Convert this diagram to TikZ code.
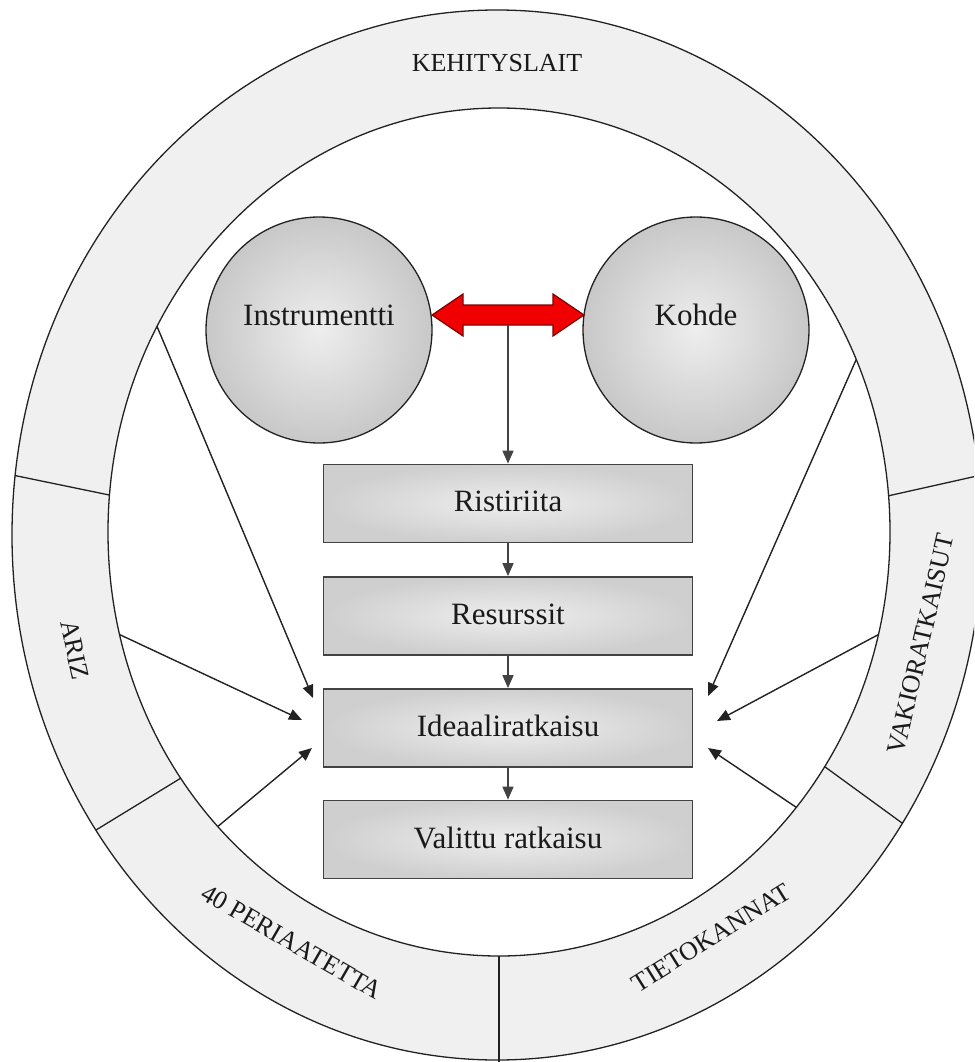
\documentclass[tikz,border=0pt]{standalone}
\usepackage{fontspec}
\setmainfont{Liberation Serif}
\usetikzlibrary{arrows.meta,calc}
\definecolor{ringfill}{HTML}{F0F0F0}
\definecolor{boxin}{HTML}{EEEEEE}
\definecolor{boxout}{HTML}{CFCFCF}
\definecolor{ballin}{HTML}{EEEEEE}
\definecolor{ballout}{HTML}{C8C8C8}
\definecolor{linecol}{HTML}{222222}
\definecolor{arrred}{HTML}{F00000}
\definecolor{arrdark}{HTML}{800000}
\definecolor{txt}{HTML}{1A1A1A}
\begin{document}
\begin{tikzpicture}[x=1pt,y=-1pt,
  ringline/.style={draw=linecol, line width=1.3pt},
  flowbox/.style={rectangle, draw=linecol!85, line width=1.8pt, minimum width=369pt, minimum height=78pt, inner sep=0pt, shading=radial, inner color=boxin, outer color=boxout, font=\fontsize{31}{36}\selectfont, text=txt},
  ball/.style={circle, draw=linecol, line width=1.3pt, minimum size=226pt, inner sep=0pt, shading=radial, inner color=ballin, outer color=ballout},
  balltext/.style={font=\fontsize{31}{36}\selectfont, text=txt},
  flow/.style={draw=linecol!85, line width=1.4pt, -{Triangle[length=13pt,width=11pt]}},
  feed/.style={draw=linecol, line width=1.4pt, -{Triangle[length=13pt,width=11pt]}},
  ringlabel/.style={font=\fontsize{26}{30}\selectfont, text=txt}
]
\useasboundingbox (0,0) rectangle (974,1062);
\clip (0,0) rectangle (974,1062);

% ring
\fill[ringfill] (497,535) ellipse [x radius=485, y radius=525];
\fill[white] (499,532) ellipse [x radius=391, y radius=424];
\draw[ringline] (497,535) ellipse [x radius=485, y radius=525];
\draw[ringline] (499,532) ellipse [x radius=391, y radius=424];

% ring dividers
\draw[ringline] ({499+391*cos(175)},{532-424*sin(175)}) -- ({497+485*cos(173.5)},{535-525*sin(173.5)});
\draw[ringline] ({499+391*cos(215.5)},{532-424*sin(215.5)}) -- ({497+485*cos(214.2)},{535-525*sin(214.2)});
\draw[ringline] (499,956) -- (499,1064);
\draw[ringline] ({499+391*cos(-33.6)},{532-424*sin(-33.6)}) -- ({497+485*cos(-33.3)},{535-525*sin(-33.3)});
\draw[ringline] ({499+391*cos(4.9)},{532-424*sin(4.9)}) -- ({497+485*cos(6.5)},{535-525*sin(6.5)});

% ring labels
\node[ringlabel] (kehit) at (497,63) {KEHITYSLAIT};
\node[ringlabel, rotate=-78] (ariz) at (75,650) {ARIZ};
\node[ringlabel, rotate=-30] (periaat) at (292,942) {40 PERIAATETTA};
\node[ringlabel, rotate=32] (tieto) at (711,938) {TIETOKANNAT};
\node[ringlabel, rotate=77] (vakio) at (921,644) {VAKIORATKAISUT};

% circles
\node[ball, label={[balltext, yshift=15pt]center:Instrumentti}] (instr) at (319,330) {};
\node[ball, label={[balltext, yshift=15pt]center:Kohde}] (kohde) at (696,330) {};

% red double arrow
\filldraw[fill=arrred, draw=arrdark, line width=1.2pt, line join=miter]
  (432,315) -- (463,294) -- (463,305) -- (553,305) -- (553,294) -- (584,315)
  -- (553,336) -- (553,325) -- (463,325) -- (463,336) -- cycle;
\coordinate (linkbot) at (508,325);

% flow boxes
\node[flowbox] (ristir) at (508,503.5) {\raisebox{4pt}{Ristiriita}};
\node[flowbox] (resurs) at (508,616) {\raisebox{4pt}{Resurssit}};
\node[flowbox] (ideaal) at (508,728) {\raisebox{4pt}{Ideaaliratkaisu}};
\node[flowbox] (valit) at (508,839.5) {\raisebox{4pt}{Valittu ratkaisu}};

\draw[flow] (linkbot) -- (ristir.north);
\draw[flow] (ristir) -- (resurs);
\draw[flow] (resurs) -- (ideaal);
\draw[flow] (ideaal) -- (valit);

% feeding arrows from the ring
\coordinate (l1s) at ({499+391*cos(151)},{532-424*sin(151)});
\coordinate (l2s) at ({499+391*cos(194)},{532-424*sin(194)});
\coordinate (l3s) at ({499+391*cos(224)},{532-424*sin(224)});
\coordinate (r1s) at ({499+391*cos(24)},{532-424*sin(24)});
\coordinate (r2s) at ({499+391*cos(-14)},{532-424*sin(-14)});
\coordinate (r3s) at ({499+391*cos(-40.5)},{532-424*sin(-40.5)});
\coordinate (l1e) at (313,698);
\coordinate (l2e) at (302,720);
\coordinate (l3e) at (312,748);
\coordinate (r1e) at (708,696);
\coordinate (r2e) at (717,721);
\coordinate (r3e) at (708,748);
\draw[feed] (l1s) -- (l1e);
\draw[feed] (l2s) -- (l2e);
\draw[feed] (l3s) -- (l3e);
\draw[feed] (r1s) -- (r1e);
\draw[feed] (r2s) -- (r2e);
\draw[feed] (r3s) -- (r3e);
\end{tikzpicture}
\end{document}
